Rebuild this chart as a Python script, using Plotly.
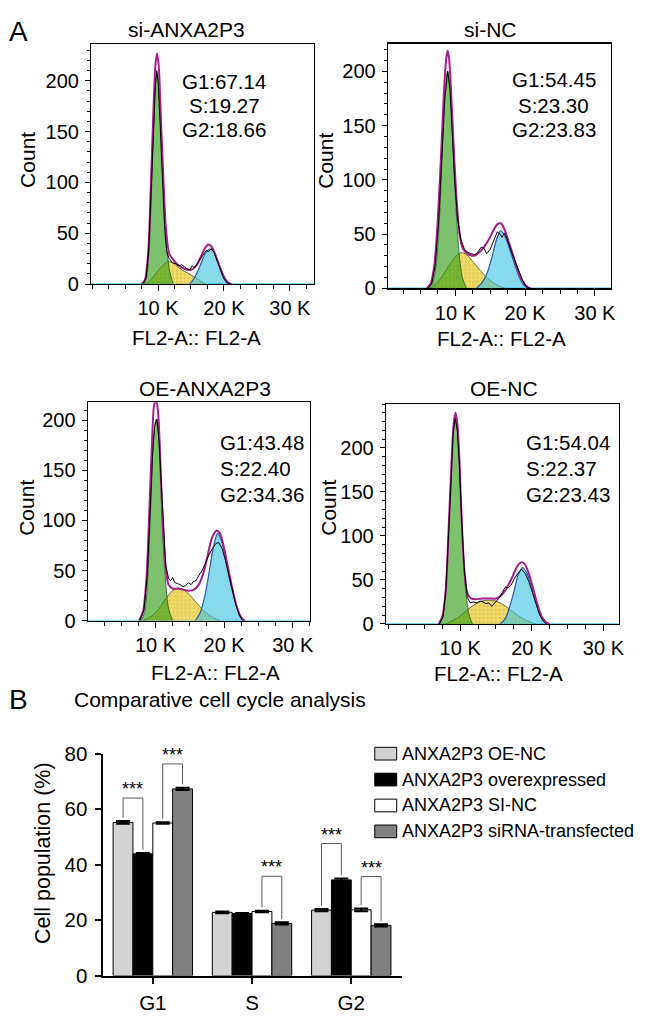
import plotly.graph_objects as go

W, H = 646, 1025
FONT = "Liberation Sans, Arial, Helvetica, sans-serif"

# ---------------- Panel A data (x in thousands of FL2-A, y = count) ----------------
panel_titles = ["si-ANXA2P3", "si-NC", "OE-ANXA2P3", "OE-NC"]
g1_percent = [67.14, 54.45, 43.48, 54.04]
s_percent = [19.27, 23.30, 22.40, 22.37]
g2_percent = [18.66, 23.83, 34.36, 23.43]

x_tick_vals = [10, 20, 30]
x_tick_text = ["10 K", "20 K", "30 K"]
y_tick_vals = [0, 50, 100, 150, 200]
x_axis_label = "FL2-A:: FL2-A"
y_axis_label = "Count"

# si-ANXA2P3
sia_g1_x = [7.9, 8.3, 8.7, 9.0, 9.3, 9.6, 9.85, 10.1, 10.4, 10.8, 11.2, 11.7, 12.3]
sia_g1_y = [0, 8, 40, 90, 150, 195, 208, 198, 160, 100, 48, 15, 0]
sia_s_x = [8.2, 9.0, 10.0, 11.0, 11.6, 12.3, 13.0, 14.0, 15.0, 16.0, 17.1]
sia_s_y = [0, 5, 13, 20, 22.5, 20.5, 17, 12.5, 9, 5, 0]
sia_g2_x = [14.8, 15.5, 16.2, 16.8, 17.3, 17.8, 18.3, 18.8, 19.4, 20.0, 20.6, 21.1]
sia_g2_y = [0, 6, 15, 25, 31.5, 34.5, 33, 27, 17, 8, 2, 0]
sia_fit_x = [7.5, 8.0, 8.5, 8.9, 9.3, 9.6, 9.85, 10.1, 10.4, 10.8, 11.2, 11.7, 12.3,
             13.0, 14.0, 15.0, 15.8, 16.5, 17.1, 17.6, 18.1, 18.7, 19.3, 19.9, 20.5, 21.1]
sia_fit_y = [0, 4, 30, 95, 170, 215, 227, 215, 170, 105, 55, 30, 24,
             19, 15, 14, 18, 27, 35, 39, 37, 29, 18, 8, 2, 0]
sia_dat_x = [7.7, 8.2, 8.6, 9.0, 9.3, 9.6, 9.8, 10.0, 10.3, 10.6, 11.0, 11.3, 11.7, 12.2,
             12.7, 13.2, 13.6, 14.0, 14.4, 14.8, 15.2, 15.5, 15.8, 16.3, 16.8, 17.3, 17.7,
             18.1, 18.5, 19.0, 19.5, 20.0, 20.5, 21.0]
sia_dat_y = [0, 6, 35, 95, 155, 195, 210, 200, 160, 110, 55, 32, 25, 21,
             20, 18, 19, 17, 15, 14, 18, 16, 19, 24, 29, 33, 32,
             35, 31, 22, 12, 5, 1, 0]

# si-NC
sinc_g1_x = [6.2, 6.8, 7.3, 7.8, 8.2, 8.55, 8.9, 9.25, 9.6, 10.0, 10.5, 11.0, 11.6]
sinc_g1_y = [0, 6, 25, 75, 140, 185, 200, 185, 140, 85, 35, 10, 0]
sinc_s_x = [6.3, 7.5, 8.5, 9.5, 10.3, 11.0, 11.8, 12.6, 13.5, 14.5, 15.5, 16.5, 17.2]
sinc_s_y = [0, 6, 15, 25, 31, 33, 30, 24, 17, 10, 5, 1.5, 0]
sinc_g2_x = [13.0, 13.8, 14.6, 15.3, 15.9, 16.5, 17.1, 17.8, 18.5, 19.2, 19.8, 20.4]
sinc_g2_y = [0, 5, 15, 30, 45, 53, 48, 36, 22, 10, 3, 0]
sinc_fit_x = [5.9, 6.5, 7.0, 7.5, 8.0, 8.4, 8.7, 8.9, 9.1, 9.4, 9.8, 10.2, 10.6, 11.0, 11.5,
              12.0, 12.7, 13.4, 14.1, 14.8, 15.5, 16.0, 16.5, 17.0, 17.6, 18.3, 19.0, 19.6,
              20.2, 20.8]
sinc_fit_y = [0, 5, 22, 65, 130, 185, 212, 219, 212, 180, 125, 80, 50, 38, 33,
              31, 30, 33, 38, 45, 54, 59, 60, 55, 44, 30, 16, 7, 2, 0]
sinc_dat_x = [6.0, 6.6, 7.1, 7.6, 8.1, 8.5, 8.9, 9.2, 9.5, 9.9, 10.3, 10.8, 11.3, 11.8,
              12.3, 12.8, 13.3, 13.7, 14.1, 14.5, 15.0, 15.5, 16.0, 16.4, 16.7, 17.0, 17.4,
              17.9, 18.4, 19.0, 19.6, 20.1, 20.6]
sinc_dat_y = [0, 4, 20, 60, 125, 175, 200, 185, 150, 100, 65, 45, 36, 33,
              32, 31, 34, 38, 37, 32, 36, 45, 52, 50, 47, 51, 46,
              36, 28, 18, 8, 2, 0]

# OE-ANXA2P3
oea_g1_x = [7.9, 8.4, 8.8, 9.2, 9.5, 9.8, 10.1, 10.4, 10.7, 11.0, 11.4, 11.9, 12.5]
oea_g1_y = [0, 8, 35, 95, 150, 190, 201, 188, 145, 95, 45, 12, 0]
oea_s_x = [8.2, 9.5, 10.5, 11.5, 12.5, 13.4, 14.3, 15.2, 16.2, 17.2, 18.3, 19.4]
oea_s_y = [0, 5, 12, 22, 30, 32.5, 30, 24, 16, 9, 3.5, 0]
oea_g2_x = [15.8, 16.5, 17.2, 17.8, 18.4, 19.05, 19.7, 20.3, 20.9, 21.5, 22.1, 22.8]
oea_g2_y = [0, 8, 25, 48, 72, 87, 78, 58, 38, 22, 9, 0]
oea_fit_x = [7.6, 8.2, 8.7, 9.1, 9.5, 9.8, 10.1, 10.4, 10.7, 11.0, 11.4, 11.9, 12.5, 13.2,
             14.0, 14.8, 15.6, 16.3, 17.0, 17.6, 18.2, 18.9, 19.4, 20.0, 20.6, 21.2, 21.8,
             22.4, 23.0]
oea_fit_y = [0, 10, 45, 110, 180, 215, 220, 205, 160, 105, 58, 36, 32, 32,
             31, 30, 31, 36, 48, 65, 82, 90, 87, 72, 52, 32, 15, 4, 0]
oea_dat_x = [7.7, 8.3, 8.8, 9.2, 9.6, 9.9, 10.2, 10.5, 10.8, 11.1, 11.5, 11.9, 12.2, 12.5,
             12.8, 13.2, 13.6, 14.0, 14.4, 14.8, 15.2, 15.5, 15.9, 16.3, 16.8, 17.3, 17.8,
             18.3, 18.8, 19.2, 19.7, 20.2, 20.7, 21.2, 21.7, 22.2, 22.7]
oea_dat_y = [0, 10, 45, 110, 170, 195, 201, 180, 140, 95, 55, 42, 40, 43,
             38, 37, 36, 34, 35, 38, 36, 39, 40, 45, 50, 58, 66,
             72, 77, 78, 72, 60, 45, 30, 16, 6, 0]

# OE-NC
oenc_g1_x = [7.0, 7.6, 8.0, 8.4, 8.75, 9.05, 9.35, 9.65, 9.95, 10.3, 10.7, 11.2, 11.7]
oenc_g1_y = [0, 12, 45, 110, 175, 220, 232, 218, 170, 105, 45, 12, 0]
oenc_s_x = [8.0, 9.0, 10.0, 11.0, 12.0, 13.0, 14.0, 15.0, 16.0, 17.0, 18.0, 19.0, 20.0, 20.6]
oenc_s_y = [0, 4, 9, 16, 22, 26, 27, 26, 22, 16, 10, 5, 1.5, 0]
oenc_g2_x = [15.6, 16.3, 17.0, 17.6, 18.1, 18.7, 19.3, 19.9, 20.5, 21.1, 21.7, 22.2]
oenc_g2_y = [0, 6, 22, 40, 56, 64, 58, 44, 28, 13, 4, 0]
oenc_fit_x = [7.0, 7.5, 8.0, 8.4, 8.8, 9.1, 9.35, 9.6, 9.9, 10.2, 10.6, 11.0, 11.5, 12.2,
              13.0, 14.0, 15.0, 15.8, 16.5, 17.2, 17.8, 18.3, 18.7, 19.1, 19.6, 20.2, 20.8,
              21.4, 22.0, 22.4]
oenc_fit_y = [0, 8, 40, 110, 185, 228, 240, 228, 185, 120, 60, 35, 29, 28,
              29, 29, 29, 33, 41, 52, 63, 69, 70, 67, 57, 40, 22, 8, 2, 0]
oenc_dat_x = [7.1, 7.6, 8.0, 8.4, 8.8, 9.0, 9.3, 9.6, 9.9, 10.2, 10.6, 11.0, 11.4, 11.8,
              12.3, 12.8, 13.2, 13.6, 14.0, 14.4, 14.7, 15.1, 15.5, 15.9, 16.3, 16.7, 17.1,
              17.6, 18.1, 18.6, 19.1, 19.6, 20.1, 20.6, 21.1, 21.6, 22.0]
oenc_dat_y = [0, 8, 38, 100, 175, 215, 234, 220, 180, 120, 60, 30, 24, 25,
              24, 26, 25, 23, 24, 20, 23, 26, 30, 36, 42, 41, 44,
              52, 58, 62, 57, 48, 35, 22, 10, 3, 0]

# ---------------- Panel B data ----------------
phases = ["G1", "S", "G2"]
series_names = ["ANXA2P3 OE-NC", "ANXA2P3 overexpressed", "ANXA2P3 SI-NC",
                "ANXA2P3 siRNA-transfected"]
oe_nc_vals = [55.2, 22.8, 23.6]
oe_nc_err = [0.5, 0.3, 0.4]
oe_vals = [43.9, 22.4, 34.5]
oe_err = [0.3, 0.2, 0.5]
si_nc_vals = [55.0, 23.1, 23.7]
si_nc_err = [0.3, 0.3, 0.5]
si_vals = [67.3, 18.8, 18.1]
si_err = [0.4, 0.4, 0.4]
bar_y_ticks = [0, 20, 40, 60, 80]
bar_title = "Comparative cell cycle analysis"
bar_y_label = "Cell population (%)"

# significance brackets: phase index, left series, right series, bracket top
sig_phase = [0, 0, 1, 2, 2]
sig_left = [0, 2, 2, 0, 2]
sig_right = [1, 3, 3, 1, 3]
sig_top = [64.0, 76.3, 35.8, 47.6, 35.7]
sig_label = "***"

# ---------------- helpers ----------------
def PX(px):
    return px / W


def PY(py):
    return 1 - py / H


annotations = []
shapes = []


def ann(text, px, py, size, xanchor="center", yanchor="middle", angle=0, color="black"):
    annotations.append(dict(text=text, x=PX(px), y=PY(py), xref="paper", yref="paper",
                            xanchor=xanchor, yanchor=yanchor, textangle=angle,
                            showarrow=False, font=dict(family=FONT, size=size, color=color)))


fig = go.Figure()

panels = [
    dict(g1=(sia_g1_x, sia_g1_y), s=(sia_s_x, sia_s_y), g2=(sia_g2_x, sia_g2_y),
         fit=(sia_fit_x, sia_fit_y), dat=(sia_dat_x, sia_dat_y)),
    dict(g1=(sinc_g1_x, sinc_g1_y), s=(sinc_s_x, sinc_s_y), g2=(sinc_g2_x, sinc_g2_y),
         fit=(sinc_fit_x, sinc_fit_y), dat=(sinc_dat_x, sinc_dat_y)),
    dict(g1=(oea_g1_x, oea_g1_y), s=(oea_s_x, oea_s_y), g2=(oea_g2_x, oea_g2_y),
         fit=(oea_fit_x, oea_fit_y), dat=(oea_dat_x, oea_dat_y)),
    dict(g1=(oenc_g1_x, oenc_g1_y), s=(oenc_s_x, oenc_s_y), g2=(oenc_g2_x, oenc_g2_y),
         fit=(oenc_fit_x, oenc_fit_y), dat=(oenc_dat_x, oenc_dat_y)),
]

# layout geometry (pixels) of each histogram frame
boxes = [
    dict(l=91.7, r=316.7, t=33.0, b=278.3, xr=(-0.17, 33.7), ytop=236.0,
         title=(188, 18), count=(27.5, 151), xlab=(198, 333),
         stats_x=226, stats_y=(70.7, 96.0, 120.7), stats_anchor="center"),
    dict(l=390.7, r=615.7, t=32.3, b=282.7, xr=(0.3, 32.3), ytop=225.6,
         title=(494.7, 18), count=(328, 151.7), xlab=(505, 334),
         stats_x=558, stats_y=(69.0, 95.7, 120.7), stats_anchor="center"),
    dict(l=88.3, r=312.3, t=399.3, b=622.7, xr=(0.1, 32.5), ytop=217.7,
         title=(206.7, 385), count=(26.7, 506.7), xlab=(216.7, 676),
         stats_x=220, stats_y=(440.0, 466.7, 493.3), stats_anchor="left"),
    dict(l=388.7, r=624.0, t=401.0, b=626.0, xr=(-0.4, 32.2), ytop=250.0,
         title=(508, 385), count=(331, 506.7), xlab=(502.6, 677),
         stats_x=528, stats_y=(440.0, 466.7, 493.3), stats_anchor="left"),
]

S_FILL = "rgba(230,205,35,0.68)"
G1_FILL = "rgba(45,155,20,0.62)"
G2_FILL = "rgba(60,195,225,0.62)"

for i, (pdat, box) in enumerate(zip(panels, boxes), start=1):
    xs = "x" if i == 1 else f"x{i}"
    ys = "y" if i == 1 else f"y{i}"
    common = dict(xaxis=xs, yaxis=ys, showlegend=False, hoverinfo="skip", mode="lines")
    fig.add_trace(go.Scatter(x=pdat["s"][0], y=pdat["s"][1], fill="tozeroy", fillcolor=S_FILL,
                             fillpattern=dict(shape=".", fgcolor="rgba(215,130,40,0.6)",
                                              size=4, solidity=0.25, fillmode="overlay"),
                             line=dict(color="rgb(70,70,40)", width=0.8, shape="spline",
                                       smoothing=0.8), **common))
    fig.add_trace(go.Scatter(x=pdat["g1"][0], y=pdat["g1"][1], fill="tozeroy", fillcolor=G1_FILL,
                             line=dict(color="rgb(30,90,25)", width=0.8, shape="spline",
                                       smoothing=0.8), **common))
    fig.add_trace(go.Scatter(x=pdat["g2"][0], y=pdat["g2"][1], fill="tozeroy", fillcolor=G2_FILL,
                             line=dict(color="rgb(45,85,170)", width=1.2, shape="spline",
                                       smoothing=0.8), **common))
    fig.add_trace(go.Scatter(x=pdat["fit"][0], y=pdat["fit"][1],
                             line=dict(color="rgb(165,30,140)", width=2, shape="spline",
                                       smoothing=0.8), **common))
    fig.add_trace(go.Scatter(x=pdat["dat"][0], y=pdat["dat"][1],
                             line=dict(color="black", width=1), **common))

    xkey = "xaxis" if i == 1 else f"xaxis{i}"
    ykey = "yaxis" if i == 1 else f"yaxis{i}"
    fig.layout[xkey] = dict(
        domain=[PX(box["l"]), PX(box["r"])], anchor=ys, range=list(box["xr"]),
        tickmode="array", tickvals=x_tick_vals, ticktext=x_tick_text,
        ticks="outside", ticklen=6, tickcolor="black", ticklabelstandoff=0,
        minor=dict(tickmode="linear", tick0=0, dtick=2.5, ticks="outside", ticklen=4,
                   tickcolor="black"),
        showline=True, mirror=True, linecolor="black", linewidth=1.3,
        showgrid=False, zeroline=False, fixedrange=True,
        tickfont=dict(family=FONT, size=20, color="black"))
    fig.layout[ykey] = dict(
        domain=[PY(box["b"]), PY(box["t"])], anchor=xs, range=[0, box["ytop"]],
        tickmode="array", tickvals=y_tick_vals,
        ticks="outside", ticklen=5, tickcolor="black", ticklabelstandoff=2,
        minor=dict(tickmode="linear", tick0=0, dtick=10, ticks="outside", ticklen=3,
                   tickcolor="black"),
        showline=True, mirror=True, linecolor="black", linewidth=1,
        showgrid=False, zeroline=False, fixedrange=True,
        tickfont=dict(family=FONT, size=20, color="black"))

    # cyan baseline just under the axis
    shapes.append(dict(type="line", xref=f"{xs} domain", yref=ys, x0=0, x1=1,
                       y0=0, y1=0, ysizemode="pixel", yanchor=0,
                       line=dict(color="rgb(120,215,235)", width=2), layer="below"))

    ann(panel_titles[i - 1], box["title"][0], box["title"][1], 21)
    ann(y_axis_label, box["count"][0], box["count"][1], 21, angle=-90)
    ann(x_axis_label, box["xlab"][0], box["xlab"][1], 20.5)
    stats = [f"G1:{g1_percent[i-1]:.2f}", f"S:{s_percent[i-1]:.2f}",
             f"G2:{g2_percent[i-1]:.2f}"]
    for txt, sy in zip(stats, box["stats_y"]):
        ann(txt, box["stats_x"], sy, 20.5, xanchor=box["stats_anchor"])

ann("A", 19, 20, 28)

# ---------------- Panel B bars ----------------
bar_vals = [oe_nc_vals, oe_vals, si_nc_vals, si_vals]
bar_errs = [oe_nc_err, oe_err, si_nc_err, si_err]
bar_colors = ["rgb(211,211,211)", "black", "white", "rgb(128,128,128)"]
xpos = list(range(len(phases)))
for name, vals, errs, col in zip(series_names, bar_vals, bar_errs, bar_colors):
    fig.add_trace(go.Bar(x=xpos, y=vals, name=name, xaxis="x5", yaxis="y5",
                         marker=dict(color=col, line=dict(color="black", width=1)),
                         error_y=dict(type="data", array=errs, color="black",
                                      thickness=2, width=7),
                         showlegend=False, hoverinfo="skip"))

BARGAP = 0.2
nser = len(series_names)
bw = (1 - BARGAP) / nser
offsets = [-(1 - BARGAP) / 2 + bw * (k + 0.5) for k in range(nser)]

fig.layout["xaxis5"] = dict(
    domain=[PX(104.3), PX(405)], anchor="y5", range=[-0.497, 2.51],
    tickmode="array", tickvals=xpos, ticktext=phases,
    ticks="outside", ticklen=6, tickwidth=2, tickcolor="black", ticklabelstandoff=2,
    showline=True, linecolor="black", linewidth=2, showgrid=False, zeroline=False,
    fixedrange=True, tickfont=dict(family=FONT, size=20.5, color="black"))
fig.layout["yaxis5"] = dict(
    domain=[PY(985.7), PY(758.7)], anchor="x5", range=[0, 80],
    tickmode="array", tickvals=bar_y_ticks,
    ticks="outside", ticklen=6, tickwidth=2, tickcolor="black", ticklabelstandoff=4,
    showline=True, linecolor="black", linewidth=2, showgrid=False, zeroline=False,
    fixedrange=True, tickfont=dict(family=FONT, size=20.5, color="black"))

for ph, a, b, top in zip(sig_phase, sig_left, sig_right, sig_top):
    xl = xpos[ph] + offsets[a]
    xr = xpos[ph] + offsets[b]
    yl = bar_vals[a][ph] + bar_errs[a][ph] + 1.2
    yr = bar_vals[b][ph] + bar_errs[b][ph] + 1.2
    for (x0, y0, x1, y1) in [(xl, yl, xl, top), (xl, top, xr, top), (xr, top, xr, yr)]:
        shapes.append(dict(type="line", xref="x5", yref="y5", x0=x0, y0=y0, x1=x1, y1=y1,
                           line=dict(color="rgb(90,90,90)", width=1)))
    annotations.append(dict(text=sig_label, x=(xl + xr) / 2, y=top, xref="x5", yref="y5",
                            xanchor="center", yanchor="bottom", yshift=-3, showarrow=False,
                            font=dict(family=FONT, size=18, color="black")))

ann("B", 18.5, 703, 28)
ann(bar_title, 222, 703, 21)
ann(bar_y_label, 44, 860.7, 21.5, angle=-90)

# manual legend
for k, (name, col) in enumerate(zip(series_names, bar_colors)):
    cy = 758.7 + 26.5 * k
    shapes.append(dict(type="rect", xref="paper", yref="paper",
                       x0=PX(377.7), x1=PX(399.8), y0=PY(cy + 6.5), y1=PY(cy - 6.5),
                       fillcolor=col, line=dict(color="black", width=1)))
    ann(name, 403.2, cy, 18, xanchor="left")

fig.update_layout(
    width=W, height=H, autosize=False,
    margin=dict(l=0, r=0, t=0, b=0),
    paper_bgcolor="white", plot_bgcolor="white",
    barmode="group", bargap=BARGAP, bargroupgap=0,
    showlegend=False,
    font=dict(family=FONT, color="black"),
    annotations=annotations, shapes=shapes,
)

fig.write_html("out.html",
               config={"displayModeBar": False, "staticPlot": True},
               post_script="document.body.style.margin='0px';"
                           "document.documentElement.style.overflow='hidden';")
